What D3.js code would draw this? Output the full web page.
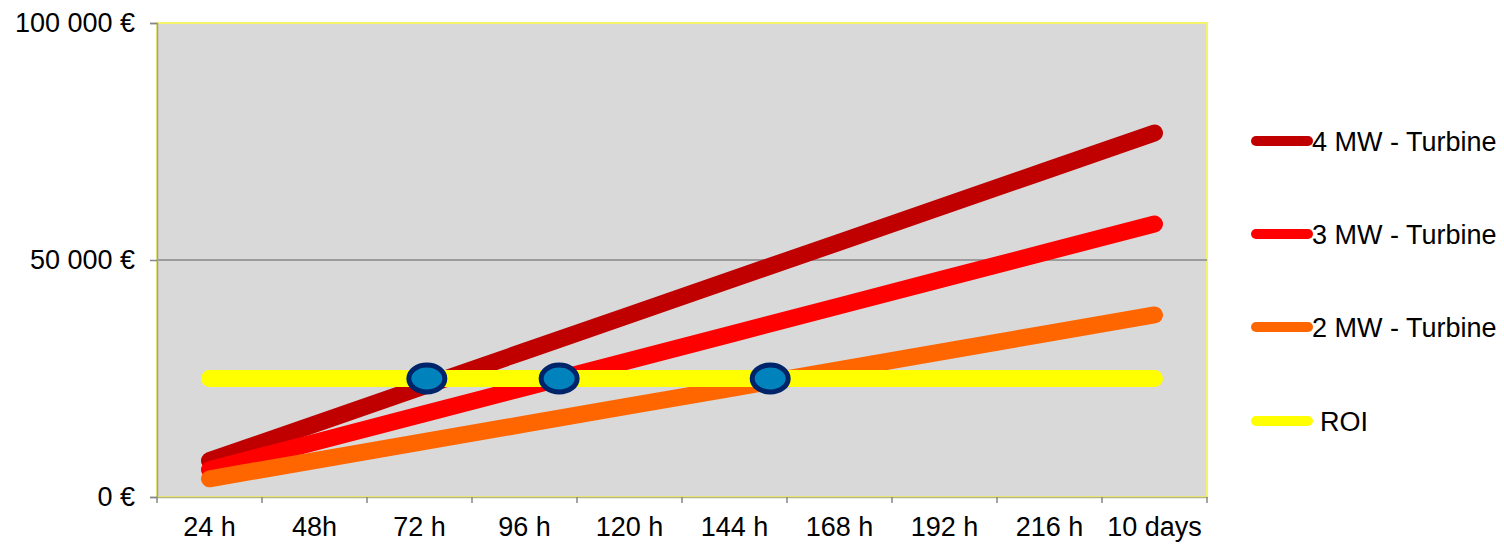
<!DOCTYPE html>
<html>
<head>
<meta charset="utf-8">
<script src="https://cdn.jsdelivr.net/npm/d3@7"></script>
<style>
  html, body { margin: 0; padding: 0; background: #fff; }
  svg { display: block; font-family: "Liberation Sans", Arial, sans-serif; }
</style>
</head>
<body>
<svg id="chart" width="1504" height="546"></svg>
<script>
// categories on the x axis
var categories = ["24 h", "48h", "72 h", "96 h", "120 h", "144 h", "168 h", "192 h", "216 h", "10 days"];
// cumulative earnings (EUR)
var mw4 = [7680, 15360, 23040, 30720, 38400, 46080, 53760, 61440, 69120, 76800];
var mw3 = [5760, 11520, 17280, 23040, 28800, 34560, 40320, 46080, 51840, 57600];
var mw2 = [3840, 7680, 11520, 15360, 19200, 23040, 26880, 30720, 34560, 38400];
var roi = [25000, 25000, 25000, 25000, 25000, 25000, 25000, 25000, 25000, 25000];
var seriesNames = ["4 MW - Turbine", "3 MW - Turbine", "2 MW - Turbine", "ROI"];
// break-even markers: fractional category index, value
var markerIdx = [2.07, 3.33, 5.34];
var markerVal = [25000, 25000, 25000];
var yTicks = [0, 50000, 100000];

var colors = ["#c00000", "#ff0000", "#ff6600", "#ffff00"];
var allSeries = [mw4, mw3, mw2, roi];

var svg = d3.select("#chart");
var L = 157, R = 1207, T = 23, B = 497;
var FS = 27;

var x = d3.scaleBand().domain(categories).range([L, R]).padding(0);
var y = d3.scaleLinear().domain([0, 100000]).range([B, T]);
// continuous x for fractional positions (markers)
var xi = function (i) { return L + x.bandwidth() * (i + 0.5); };

// plot background
svg.append("rect")
  .attr("x", L).attr("y", T).attr("width", R - L).attr("height", B - T)
  .attr("fill", "#d9d9d9")
  .attr("stroke", "#f4f46a").attr("stroke-width", 2);

// gridline
svg.append("g").selectAll("line").data(yTicks.filter(function (d) { return d > 0 && d < 100000; }))
  .join("line")
  .attr("x1", L).attr("x2", R)
  .attr("y1", function (d) { return y(d); }).attr("y2", function (d) { return y(d); })
  .attr("stroke", "#868686").attr("stroke-width", 1.5);

var fmt = function (d) { return d3.format(",")(d).replace(/,/g, " ") + " €"; };

// y axis
var yAxis = svg.append("g").attr("transform", "translate(" + L + ",0)")
  .call(d3.axisLeft(y).tickValues(yTicks).tickSize(7).tickPadding(15).tickFormat(fmt));
yAxis.select(".domain").attr("stroke", "#a3a38a").attr("stroke-width", 1.5);
yAxis.selectAll(".tick line").attr("stroke", "#868686").attr("stroke-width", 1.5);
yAxis.selectAll("text").attr("font-size", FS).attr("fill", "#000")
  .style("font-family", "'Liberation Sans', Arial, sans-serif");

// x axis
var xAxis = svg.append("g").attr("transform", "translate(0," + B + ")")
  .call(d3.axisBottom(x).tickSize(0).tickPadding(20));
xAxis.select(".domain").attr("stroke", "#b5b58a").attr("stroke-width", 1.5);
xAxis.selectAll("text").attr("font-size", FS).attr("fill", "#000")
  .style("font-family", "'Liberation Sans', Arial, sans-serif");
// tick marks at band boundaries
xAxis.append("g").selectAll("line").data(d3.range(categories.length + 1))
  .join("line")
  .attr("x1", function (i) { return L + i * x.bandwidth(); })
  .attr("x2", function (i) { return L + i * x.bandwidth(); })
  .attr("y1", 0).attr("y2", 6)
  .attr("stroke", "#868686").attr("stroke-width", 1.5);

// series lines
var line = d3.line()
  .x(function (d, i) { return x(categories[i]) + x.bandwidth() / 2; })
  .y(function (d) { return y(d); });

svg.append("g").selectAll("path").data(allSeries)
  .join("path")
  .attr("d", line)
  .attr("fill", "none")
  .attr("stroke", function (d, i) { return colors[i]; })
  .attr("stroke-width", 17)
  .attr("stroke-linecap", "round")
  .attr("stroke-linejoin", "round");

// markers
svg.append("g").selectAll("ellipse").data(markerIdx)
  .join("ellipse")
  .attr("cx", function (d) { return xi(d); })
  .attr("cy", function (d, i) { return y(markerVal[i]); })
  .attr("rx", 18).attr("ry", 13.5)
  .attr("fill", "#0082bc")
  .attr("stroke", "#00246a").attr("stroke-width", 5);

// legend
var legY = [141, 234, 327, 421];
var leg = svg.append("g").selectAll("g").data(seriesNames)
  .join("g")
  .attr("transform", function (d, i) { return "translate(1256," + legY[i] + ")"; });
leg.append("line")
  .attr("x1", 0).attr("x2", 52).attr("y1", 0).attr("y2", 0)
  .attr("stroke", function (d, i) { return colors[i]; })
  .attr("stroke-width", 10).attr("stroke-linecap", "round");
leg.append("text")
  .attr("x", function (d, i) { return i === 3 ? 64 : 56; })
  .attr("y", 9.5)
  .attr("font-size", FS)
  .text(function (d) { return d; });
</script>
</body>
</html>
